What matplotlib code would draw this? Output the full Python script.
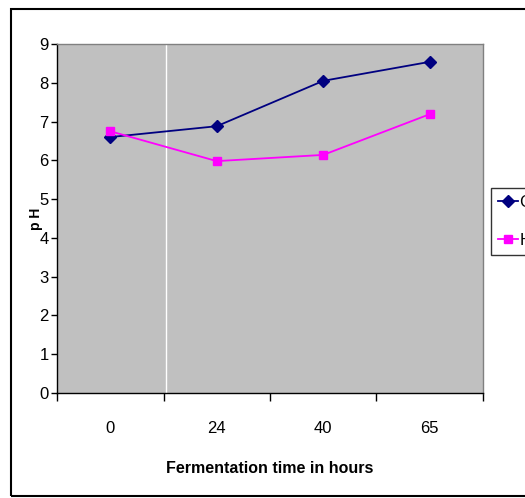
import matplotlib
matplotlib.use("Agg")
from matplotlib import pyplot as plt
from matplotlib.patches import Rectangle

# Data
hours = ["0", "24", "40", "65"]
control_ph = [6.6, 6.88, 8.05, 8.54]
h_ph = [6.75, 5.98, 6.14, 7.19]
series_names = ["Control", "Hydrolysed"]

plt.rcParams['font.family'] = ['Liberation Sans', 'DejaVu Sans']

fig = plt.figure(figsize=(5.25, 4.98), dpi=100)

# Outer chart border
fig.patches.append(Rectangle((11 / 525, 2 / 498), 1.2, 487 / 498, transform=fig.transFigure,
                             fill=False, edgecolor='black', linewidth=1.5, zorder=0))

ax = fig.add_axes([57 / 525, 1 - 393 / 498, 426 / 525, 349 / 498])
ax.set_facecolor('#c0c0c0')

x = list(range(len(hours)))
ax.axvline(0.52, color='white', linewidth=1)
ax.plot(x, control_ph, color='#000080', marker='D', markersize=6, linewidth=1.3,
        label=series_names[0])
ax.plot(x, h_ph, color='#ff00ff', marker='s', markersize=6, linewidth=1.3,
        label=series_names[1])

ax.set_xlim(-0.5, len(hours) - 0.5)
ax.set_ylim(0, 9)
ax.set_yticks(range(0, 10))
ax.set_xticks([i - 0.5 for i in range(len(hours) + 1)])
ax.set_xticklabels([])
ax.set_xticks(x, minor=True)
ax.set_xticklabels(hours, minor=True)
ax.tick_params(axis='x', which='major', direction='out', length=6, width=1)
ax.tick_params(axis='x', which='minor', length=0, pad=20, labelsize=12)
ax.tick_params(axis='y', direction='out', length=4, width=1, labelsize=12, pad=2)

for side in ['top', 'right']:
    ax.spines[side].set_color('#808080')
    ax.spines[side].set_linewidth(1)
ax.spines['left'].set_linewidth(1)
ax.spines['bottom'].set_linewidth(1)

ax.set_xlabel("Fermentation time in hours", fontsize=11.5, fontweight='bold', labelpad=18)
ax.set_ylabel("p H", fontsize=10, fontweight='bold')
ax.yaxis.set_label_coords(-0.032, 0.5)

# Legend sits on the right edge and is cut off, as in the original
leg = fig.legend(loc='upper left', bbox_to_anchor=(491 / 525, 1 - 188 / 498),
                 fontsize=12, frameon=True, fancybox=False, edgecolor='black',
                 handlelength=1.2, borderpad=0.4, labelspacing=1.4, handletextpad=0.1,
                 borderaxespad=0)
leg.get_frame().set_linewidth(1)

fig.savefig("out.png", dpi=100)
